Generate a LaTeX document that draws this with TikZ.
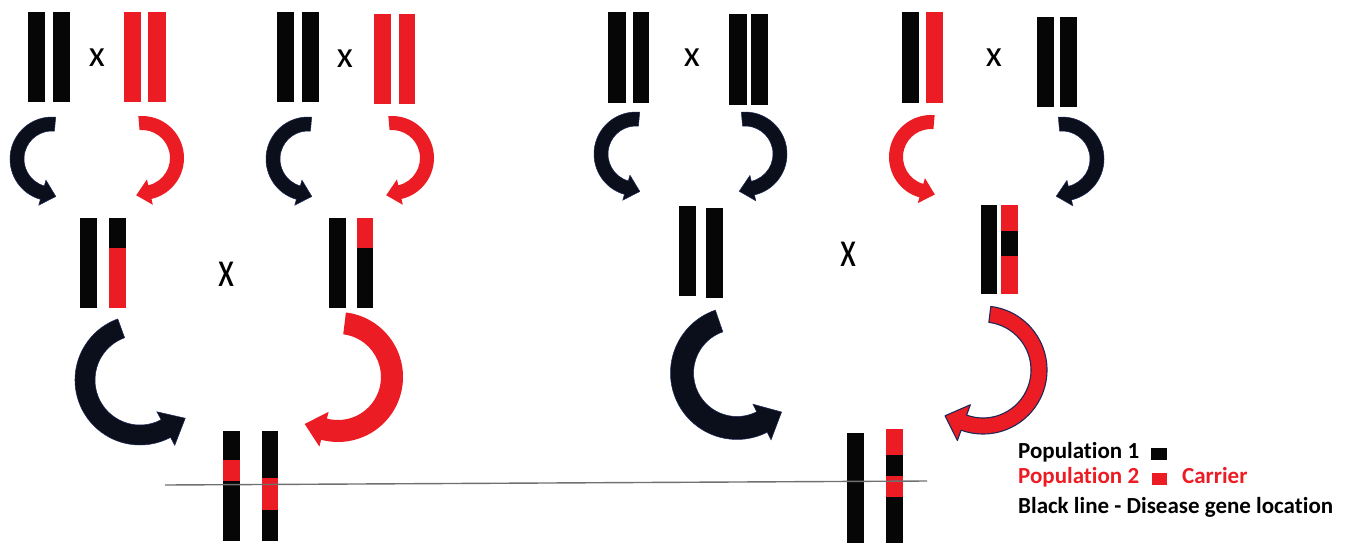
\documentclass[tikz,border=0pt]{standalone}
\usepackage{fontspec}
\setmainfont{Carlito}[Ligatures=NoCommon]
\usetikzlibrary{calc}
\definecolor{cred}{HTML}{EC1C24}
\definecolor{cblk}{HTML}{060606}
\definecolor{ablk}{HTML}{0B0F1C}
\definecolor{navy}{HTML}{1F2857}
\definecolor{gline}{HTML}{707070}
\tikzset{
  blk/.style={fill=cblk},
  rd/.style={fill=cred},
  arrblack/.style={fill=ablk, draw=navy, line width=0.5pt},
  arrred/.style={fill=cred},
  arrredo/.style={fill=cred, draw=navy, line width=1.1pt, line join=round},
  crosslbl/.style={inner sep=0pt, font=\fontsize{37}{40}\selectfont},
  legend/.style={inner sep=0pt, anchor=base west, font=\bfseries\fontsize{23}{26}\selectfont},
}
% #1 style, #2 cx, #3 cy, #4 r, #5 start angle, #6 end angle, #7 band half width, #8 head half width, #9 head length
\newcommand{\fatarrow}[9]{%
  \pgfmathsetmacro{\faRo}{#4+#7}%
  \pgfmathsetmacro{\faRi}{#4-#7}%
  \pgfmathsetmacro{\faHo}{#4+#8}%
  \pgfmathsetmacro{\faHi}{#4-#8}%
  \pgfmathsetmacro{\faTa}{#6>#5 ? #6+90 : #6-90}%
  \path[#1] ($(#2,#3)+(#5:\faRo)$) arc[start angle=#5, end angle=#6, radius=\faRo]
    -- ($(#2,#3)+(#6:\faHo)$) -- ($(#2,#3)+(#6:#4)+(\faTa:#9)$) -- ($(#2,#3)+(#6:\faHi)$)
    -- ($(#2,#3)+(#6:\faRi)$) arc[start angle=#6, end angle=#5, radius=\faRi] -- cycle;
}
\begin{document}
\begin{tikzpicture}[x=1pt,y=-1pt]
\useasboundingbox (0,0) rectangle (1350,544);
% ---------- top row: parents ----------
% group 1
\fill[blk] (28,12) rectangle (45,102);
\fill[blk] (53,12) rectangle (70,102);
\node[crosslbl] (x1) at (97,58) {x};
\fill[rd] (124,12) rectangle (141,102);
\fill[rd] (148,12) rectangle (166,102);
% group 2
\fill[blk] (277,12) rectangle (294,102);
\fill[blk] (302,12) rectangle (319,102);
\node[crosslbl] (x2) at (345,59) {x};
\fill[rd] (374,14) rectangle (391,104);
\fill[rd] (399,14) rectangle (415,104);
% group 3
\fill[blk] (608,12) rectangle (626,103);
\fill[blk] (633,12) rectangle (649,103);
\node[crosslbl] (x3) at (692,58) {x};
\fill[blk] (729,14) rectangle (747,105);
\fill[blk] (751,14) rectangle (768,105);
% group 4
\fill[blk] (902,12) rectangle (919,103);
\fill[rd] (926,12) rectangle (943,103);
\node[crosslbl] (x4) at (994,58) {x};
\fill[blk] (1037,17) rectangle (1054,107);
\fill[blk] (1060,17) rectangle (1077,107);
% ---------- small arrows ----------
\fatarrow{arrblack}{52}{159}{35}{275}{106}{7}{13}{14}
\fatarrow{arrred}{142}{158}{35}{265}{437}{7}{13}{14}
\fatarrow{arrblack}{308}{159}{35}{275}{106}{7}{13}{14}
\fatarrow{arrred}{392}{158}{35}{265}{437}{7}{13}{14}
\fatarrow{arrblack}{636}{154}{35}{275}{106}{7}{13}{14}
\fatarrow{arrblack}{745}{154}{35}{265}{437}{7}{13}{14}
\fatarrow{arrred}{931}{157}{35}{275}{106}{7}{13}{14}
\fatarrow{arrblack}{1062}{159}{35}{265}{437}{7}{13}{14}
% ---------- middle row ----------
\fill[blk] (80,218) rectangle (97,308);
\fill[blk] (109,218) rectangle (126,248);
\fill[rd] (109,248) rectangle (126,308);
\node[crosslbl] (x5) at (227,274) {\scalebox{1}[1.38]{x}};
\fill[blk] (329,218) rectangle (346,308);
\fill[rd] (357,218) rectangle (373,248);
\fill[blk] (357,248) rectangle (373,308);
\fill[blk] (679,206) rectangle (696,296);
\fill[blk] (706,208) rectangle (723,298);
\node[crosslbl] (x6) at (849,254) {\scalebox{1}[1.38]{x}};
\fill[blk] (981,205) rectangle (997,294);
\fill[rd] (1001,205) rectangle (1018,231);
\fill[blk] (1001,231) rectangle (1018,256);
\fill[rd] (1001,256) rectangle (1018,294);
% ---------- big arrows ----------
\fatarrow{arrblack}{140}{380}{55}{250}{62}{10}{19}{22}
\fatarrow{arrred}{338}{377}{54}{277}{465}{11}{18}{20}
\fatarrow{arrblack}{737}{373}{55}{251}{63}{11.5}{20}{22}
\fatarrow{arrredo}{983}{370}{56}{277}{470}{8}{19}{20}
% ---------- bottom row ----------
\fill[blk] (223,431) rectangle (240,541);
\fill[rd] (223,460) rectangle (240,481);
\fill[blk] (262,431) rectangle (278,541);
\fill[rd] (262,478) rectangle (278,510);
\fill[blk] (847,433) rectangle (864,543);
\fill[blk] (886,429) rectangle (903,543);
\fill[rd] (886,429) rectangle (903,455);
\fill[rd] (886,476) rectangle (903,497);
% disease gene line
\coordinate (lineA) at (165,485);
\coordinate (lineB) at (927,481);
\draw[gline, line width=1.4pt] (lineA) -- (lineB);
% ---------- legend ----------
\node[legend, text=black] (pop1) at (1018,458) {Population 1};
\fill[blk] (1151,448) rectangle (1167,460);
\node[legend, text=cred] (pop2) at (1018,483) {Population 2};
\fill[rd] (1152,473) rectangle (1167,485);
\node[legend, text=cred] (carrier) at (1182,483) {Carrier};
\node[legend, text=black] (bline) at (1018,513) {Black line - Disease gene location};
\end{tikzpicture}
\end{document}
